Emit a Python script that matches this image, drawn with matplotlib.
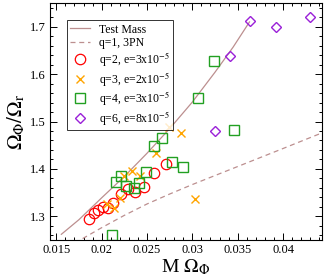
import matplotlib
matplotlib.use("Agg")
import matplotlib.pyplot as plt
from matplotlib.ticker import MultipleLocator

plt.rcParams['font.family'] = ['Liberation Serif', 'DejaVu Serif']
plt.rcParams['mathtext.fontset'] = 'stix'

# Test-mass curve
tm_x = [0.01555, 0.0175, 0.0200, 0.0225, 0.0250, 0.0275, 0.0300, 0.0325, 0.0345, 0.0363]
tm_y = [1.262, 1.293, 1.339, 1.384, 1.433, 1.485, 1.541, 1.604, 1.657, 1.710]

# q=1, 3PN curve
pn_x = [0.0179, 0.0200, 0.0225, 0.0250, 0.0275, 0.0300, 0.0325, 0.0350, 0.0375, 0.0400, 0.0443]
pn_y = [1.253, 1.276, 1.302, 1.326, 1.347, 1.367, 1.386, 1.405, 1.424, 1.443, 1.476]

# q=2
q2_x = [0.01859, 0.01915, 0.01963, 0.0201, 0.0207, 0.0213, 0.0221, 0.0229, 0.0237, 0.0247, 0.0258, 0.0271]
q2_y = [1.294, 1.306, 1.314, 1.320, 1.317, 1.328, 1.347, 1.357, 1.352, 1.362, 1.391, 1.411]

# q=3
q3_x = [0.0206, 0.0214, 0.0220, 0.0225, 0.0233, 0.0242, 0.0260, 0.0274, 0.0287, 0.0303]
q3_y = [1.327, 1.318, 1.339, 1.385, 1.396, 1.384, 1.434, 1.489, 1.476, 1.337]

# q=4
q4_x = [0.02117, 0.0216, 0.02217, 0.02272, 0.02356, 0.02407, 0.02485, 0.02576, 0.02669, 0.02775, 0.02895, 0.03061, 0.03238, 0.03458]
q4_y = [1.2595, 1.372, 1.386, 1.363, 1.360, 1.370, 1.394, 1.449, 1.466, 1.415, 1.405, 1.550, 1.627, 1.482]

# q=6
q6_x = [0.03249, 0.03411, 0.03639, 0.03918, 0.04300]
q6_y = [1.480, 1.639, 1.713, 1.699, 1.720]

fig = plt.figure(figsize=(3.24, 2.78), dpi=100)
ax = fig.add_axes([50/324, 38/278, 272/324, 237/278])

line_col = '#bc8f8f'
ax.plot(tm_x, tm_y, '-', color=line_col, lw=0.9, label='Test Mass')
ax.plot(pn_x, pn_y, '--', color=line_col, lw=0.9, dashes=(4, 3), label='q=1, 3PN')
ax.plot(q2_x, q2_y, 'o', ls='none', mfc='none', mec='red', ms=7.5, mew=0.9,
        label='q=2, e=3x10$^{-5}$')
ax.plot(q3_x, q3_y, 'x', ls='none', color='orange', ms=5.5, mew=1.0,
        label='q=3, e=2x10$^{-5}$')
ax.plot(q4_x, q4_y, 's', ls='none', mfc='none', mec='#22a022', ms=6.5, mew=1.0,
        label='q=4, e=3x10$^{-5}$')
ax.plot(q6_x, q6_y, 'D', ls='none', mfc='none', mec='#9a20d8', ms=5.5, mew=1.0,
        label='q=6, e=8x10$^{-5}$')

ax.set_xlim(0.0143, 0.0443)
ax.set_ylim(1.25, 1.75)
ax.xaxis.set_minor_locator(MultipleLocator(0.001))
ax.yaxis.set_minor_locator(MultipleLocator(0.02))
ax.set_xticks([0.015, 0.02, 0.025, 0.03, 0.035, 0.04])
ax.set_xticklabels(['0.015', '0.02', '0.025', '0.03', '0.035', '0.04'])
ax.set_yticks([1.3, 1.4, 1.5, 1.6, 1.7])
ax.set_yticklabels(['1.3', '1.4', '1.5', '1.6', '1.7'])
ax.tick_params(which='both', direction='in', top=True, right=True, labelsize=9, width=0.7, pad=3)
ax.tick_params(which='major', length=5)
ax.tick_params(which='minor', length=2.5)
for s in ax.spines.values():
    s.set_linewidth(0.8)

ax.set_xlabel(r'M $\Omega_\Phi$', fontsize=14, labelpad=1)
ax.set_ylabel(r'$\Omega_\Phi/\Omega_\mathrm{r}$', fontsize=15, labelpad=2)

leg = ax.legend(loc='upper left', bbox_to_anchor=(0.062, 0.928), frameon=True, fancybox=False,
                edgecolor='black', fontsize=8.5, handlelength=1.7, handletextpad=0.7,
                borderpad=0.3, labelspacing=0.12, borderaxespad=0)
leg.get_frame().set_linewidth(0.7)

fig.savefig('out.png', dpi=100)
